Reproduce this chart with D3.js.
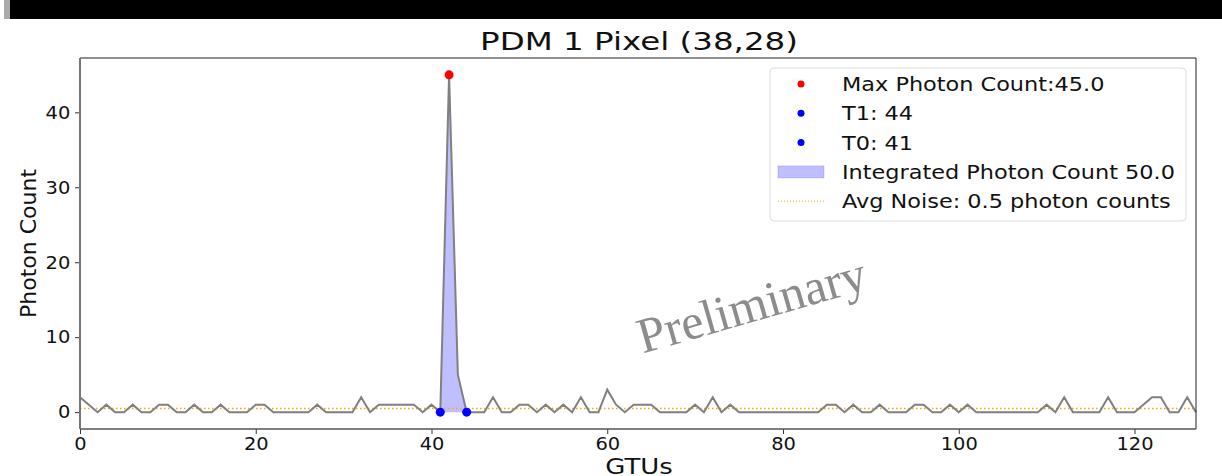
<!DOCTYPE html>
<html>
<head>
<meta charset="utf-8">
<script src="https://cdn.jsdelivr.net/npm/d3@7"></script>
<style>
  body { margin: 0; background: #fff; }
  svg { display: block; font-family: 'DejaVu Sans', sans-serif; }
</style>
</head>
<body>
<svg id="chart" width="1222" height="476"></svg>
<script>
// photon counts per GTU
const counts = [
  2, 1, 0, 1, 0, 0, 1, 0, 0, 1, 1, 0, 0, 1, 0, 0, 1, 0, 0, 0,
  1, 1, 0, 0, 0, 0, 0, 1, 0, 0, 0, 0, 2, 0, 1, 1, 1, 1, 1, 0,
  1, 0, 45, 5, 0, 0, 0, 2, 0, 0, 1, 1, 0, 1, 0, 1, 0, 2, 0, 0,
  3, 1, 0, 1, 1, 1, 0, 0, 0, 0, 1, 0, 2, 0, 1, 0, 0, 0, 0, 0,
  0, 0, 0, 0, 0, 1, 1, 0, 1, 0, 0, 1, 0, 0, 0, 1, 1, 0, 0, 1,
  0, 1, 0, 0, 0, 0, 0, 0, 0, 0, 1, 0, 2, 0, 0, 0, 0, 2, 0, 0,
  0, 1, 2, 2, 0, 0, 2, 0
];
const xTicks = [0, 20, 40, 60, 80, 100, 120];
const yTicks = [0, 10, 20, 30, 40];
const maxGtu = 42;
const t0 = 41;
const t1 = 44;
const avgNoise = 0.5;
const legendLabels = [
  'Max Photon Count:45.0',
  'T1: 44',
  'T0: 41',
  'Integrated Photon Count 50.0',
  'Avg Noise: 0.5 photon counts'
];

const svg = d3.select('#chart');
const m = { left: 80, right: 1196, top: 58, bottom: 429 };

// black strip at the top of the screenshot
svg.append('rect').attr('x', 4).attr('y', 0).attr('width', 7).attr('height', 19).attr('fill', '#aaa');
svg.append('rect').attr('x', 10).attr('y', 0).attr('width', 1212).attr('height', 19).attr('fill', '#000');

const x = d3.scaleLinear().domain([0, counts.length - 1]).range([m.left, m.right]);
const y = d3.scaleLinear().domain([-2.25, 47.25]).range([m.bottom, m.top]);

const data = counts.map((v, i) => ({ i, v }));

// integrated area between T0 and T1
const area = d3.area().x(d => x(d.i)).y0(y(0)).y1(d => y(d.v));
svg.append('path')
  .datum(data.filter(d => d.i >= t0 && d.i <= t1))
  .attr('d', area)
  .attr('fill', '#0000ff')
  .attr('fill-opacity', 0.25);

// noise level
svg.append('line')
  .attr('x1', m.left).attr('x2', m.right)
  .attr('y1', y(avgNoise)).attr('y2', y(avgNoise))
  .attr('stroke', 'orange').attr('stroke-width', 1.5)
  .attr('stroke-dasharray', '1.5,2.5');

const line = d3.line().x(d => x(d.i)).y(d => y(d.v));
svg.append('path')
  .datum(data)
  .attr('d', line)
  .attr('fill', 'none')
  .attr('stroke', 'gray')
  .attr('stroke-width', 2);

// markers
svg.append('circle').attr('cx', x(maxGtu)).attr('cy', y(counts[maxGtu])).attr('r', 4.5).attr('fill', 'red');
svg.append('circle').attr('cx', x(t1)).attr('cy', y(0)).attr('r', 4.5).attr('fill', 'blue');
svg.append('circle').attr('cx', x(t0)).attr('cy', y(0)).attr('r', 4.5).attr('fill', 'blue');

// watermark
svg.append('text')
  .attr('transform', 'translate(753,310) rotate(-16)')
  .attr('text-anchor', 'middle')
  .attr('dominant-baseline', 'middle')
  .attr('font-family', "'Liberation Serif', serif")
  .attr('font-size', 50)
  .attr('fill', 'gray')
  .attr('fill-opacity', 0.9)
  .text('Preliminary');

// axes (the source image is a little stretched sideways, so text gets a scaleX)
const xAxis = svg.append('g')
  .attr('transform', `translate(0,${m.bottom})`)
  .call(d3.axisBottom(x).tickValues(xTicks).tickSize(5).tickPadding(3));
const yAxis = svg.append('g')
  .attr('transform', `translate(${m.left},0)`)
  .call(d3.axisLeft(y).tickValues(yTicks).tickSize(5).tickPadding(4));
[xAxis, yAxis].forEach(g => {
  g.select('.domain').remove();
  g.selectAll('text').attr('font-size', 18).attr('font-family', "'DejaVu Sans', sans-serif")
    .attr('fill', '#111').attr('transform', 'scale(1.08,1)');
  g.selectAll('line').attr('stroke', '#333');
});

// frame
svg.append('line').attr('x1', m.left).attr('x2', m.right).attr('y1', m.top).attr('y2', m.top).attr('stroke', '#222');
svg.append('line').attr('x1', m.right).attr('x2', m.right).attr('y1', m.top).attr('y2', m.bottom).attr('stroke', '#222');
svg.append('line').attr('x1', m.left).attr('x2', m.right).attr('y1', m.bottom).attr('y2', m.bottom).attr('stroke', '#555').attr('stroke-width', 1.5);
svg.append('line').attr('x1', m.left).attr('x2', m.left).attr('y1', m.top).attr('y2', m.bottom).attr('stroke', '#777').attr('stroke-width', 2);

// titles
svg.append('text').attr('transform', 'translate(639,50) scale(1.3,1)').attr('text-anchor', 'middle')
  .attr('font-size', 25).attr('fill', '#111').text('PDM 1 Pixel (38,28)');
svg.append('text').attr('transform', 'translate(639,474) scale(1.18,1)').attr('text-anchor', 'middle')
  .attr('font-size', 22).attr('fill', '#111').text('GTUs');
svg.append('text').attr('transform', `translate(36,${(m.top + m.bottom) / 2}) rotate(-90)`)
  .attr('text-anchor', 'middle')
  .attr('font-size', 22).attr('fill', '#111').text('Photon Count');

// legend
const lg = svg.append('g').attr('transform', 'translate(770,68)');
lg.append('rect').attr('width', 416).attr('height', 153).attr('rx', 4)
  .attr('fill', '#fff').attr('fill-opacity', 0.8).attr('stroke', '#ddd');
const rowY = i => 16 + i * 29.3;
legendLabels.forEach((t, i) => {
  lg.append('text').attr('transform', `translate(72,${rowY(i)}) scale(1.12,1)`).attr('dy', '0.35em')
    .attr('font-size', 20).attr('fill', '#111').text(t);
});
lg.append('circle').attr('cx', 31).attr('cy', rowY(0)).attr('r', 3.5).attr('fill', 'red');
lg.append('circle').attr('cx', 31).attr('cy', rowY(1)).attr('r', 3.5).attr('fill', 'blue');
lg.append('circle').attr('cx', 31).attr('cy', rowY(2)).attr('r', 3.5).attr('fill', 'blue');
lg.append('rect').attr('x', 8).attr('y', rowY(3) - 6).attr('width', 46).attr('height', 12)
  .attr('fill', '#0000ff').attr('fill-opacity', 0.25).attr('stroke', '#0000ff').attr('stroke-opacity', 0.15);
lg.append('line').attr('x1', 8).attr('x2', 54).attr('y1', rowY(4)).attr('y2', rowY(4))
  .attr('stroke', 'orange').attr('stroke-width', 1).attr('stroke-dasharray', '1,2');
</script>
</body>
</html>
